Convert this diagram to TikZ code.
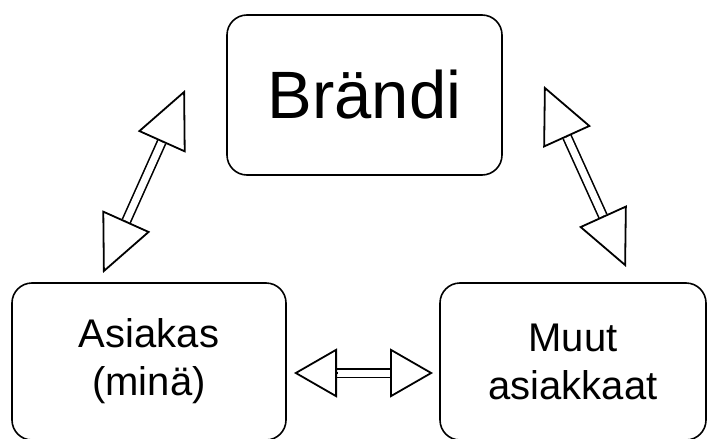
\documentclass[tikz,border=0pt]{standalone}
\usepackage{fontspec}
\setmainfont{Liberation Sans}
\usetikzlibrary{arrows.meta, calc}

\begin{document}
\begin{tikzpicture}[x=1pt, y=-1pt,
    box/.style={draw, line width=1.6pt, rounded corners=20pt, align=center, inner sep=0pt},
    shaft/.style={double, double distance=7pt, line width=1.6pt},
    hd/.style 2 args={-{Triangle[open, length=#1, width=#2]}, line width=1.8pt}]
        \useasboundingbox (0,0) rectangle (707,439);

        % Laatikot
        \node[box, minimum width=275pt, minimum height=160pt, font=\fontsize{67}{80}\selectfont] (brand) at (364.5,95) {Brändi};
        \node[box, minimum width=274pt, minimum height=157pt, font=\fontsize{40}{48}\selectfont] (self) at (149,361.5) {Asiakas\\(minä)};
        \node[box, minimum width=266pt, minimum height=157pt, font=\fontsize{40}{48}\selectfont] (others) at (573,361.5) {Muut\\asiakkaat};

        % Nuolten kärjet
        \coordinate (selfTip) at (103,273);
        \coordinate (brandTipL) at (185,90);
        \coordinate (brandTipR) at (544,86);
        \coordinate (othersTip) at (626,267);
        \coordinate (selfTipR) at (294,373);
        \coordinate (othersTipL) at (433,373);

        % Kaksisuuntaiset nuolet
        \foreach \ta/\tb/\len/\wid in {selfTip/brandTipL/57/52, brandTipR/othersTip/56/52, selfTipR/othersTipL/43/49} {
            \coordinate (ba) at ($(\ta)!\len pt!(\tb)$);
            \coordinate (bb) at ($(\tb)!\len pt!(\ta)$);
            \draw[shaft] (ba) -- (bb);
            \draw[hd={\len pt}{\wid pt}] (ba) -- (\ta);
            \draw[hd={\len pt}{\wid pt}] (bb) -- (\tb);
        }
\end{tikzpicture}
\end{document}
